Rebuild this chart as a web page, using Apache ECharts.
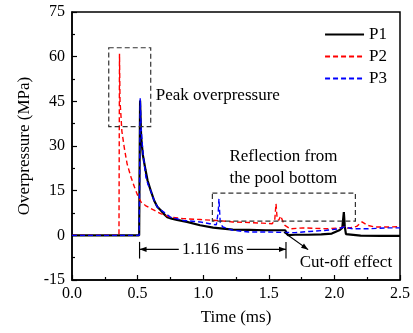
<!DOCTYPE html>
<html>
<head>
<meta charset="utf-8">
<script src="https://cdn.jsdelivr.net/npm/echarts@6/dist/echarts.min.js"></script>
<style>
  html, body { margin: 0; padding: 0; background: #fff; }
  #chart { width: 413px; height: 333px; }
</style>
</head>
<body>
<div id="chart"></div>
<script>
// Pressure histories at three gauges (time in ms, overpressure in MPa)
const p1Time = [0, 0.512, 0.515, 0.519, 0.527, 0.54, 0.56, 0.576, 0.6, 0.626, 0.65, 0.676, 0.7, 0.726, 0.76, 0.8, 0.876, 0.976, 1.076, 1.226, 1.35, 1.475, 1.56, 1.625, 1.645, 1.7, 1.8, 1.9, 1.98, 2.037, 2.06, 2.072, 2.079, 2.088, 2.1, 2.2, 2.35, 2.5];
const p1Value = [0, 0, 22, 45.3, 33, 27, 22, 18.4, 15, 11.7, 9.6, 8.4, 7.2, 6.1, 5.6, 5.2, 4.5, 3.4, 2.6, 1.9, 1.8, 1.7, 1.7, 1.7, 0.1, 0.2, 0.2, 0.3, 0.6, 1.7, 2.5, 7.8, 3, 0.4, 0.1, -0.1, -0.2, -0.2];

const p2Time = [0, 0.358, 0.362, 0.366, 0.372, 0.38, 0.4, 0.42, 0.45, 0.476, 0.5, 0.526, 0.56, 0.6, 0.676, 0.75, 0.85, 0.976, 1.1, 1.226, 1.35, 1.45, 1.525, 1.545, 1.555, 1.563, 1.575, 1.59, 1.62, 1.663, 1.76, 1.94, 2.04, 2.075, 2.1, 2.17, 2.21, 2.25, 2.31, 2.4, 2.5];
const p2Value = [0, 0, 61, 45, 41, 35, 29, 24, 19.5, 16.2, 13.5, 11.2, 10, 9, 7.3, 6.1, 5.6, 5.3, 5, 4.5, 4.3, 4.1, 3.9, 5, 10.6, 6, 5, 6.5, 3.4, 2.2, 2.5, 2.2, 2.5, 2.8, 2.4, 3, 4.5, 3.4, 2.8, 2.8, 2.9];

const p3Time = [0, 0.512, 0.52, 0.527, 0.54, 0.563, 0.58, 0.6, 0.626, 0.65, 0.7, 0.75, 0.85, 0.976, 1.05, 1.1, 1.115, 1.12, 1.13, 1.15, 1.226, 1.35, 1.5, 1.6, 1.7, 1.81, 1.94, 2.03, 2.075, 2.14, 2.26, 2.39, 2.5];
const p3Value = [0, 0, 46, 36, 28, 19.6, 17, 15, 11.7, 9.5, 7.8, 6.1, 5, 4.5, 3.9, 3.5, 8, 12.3, 4, 2.8, 1.7, 1.1, 1.1, 1.0, 0.9, 1.3, 1.7, 2.2, 2.8, 2.2, 2.2, 2.5, 2.5];

const seriesNames = ['P1', 'P2', 'P3'];

// Annotation anchors, in data coordinates
const peakBox = [[0.28, 63], [0.6, 36.5]];
const reflectBox = [[1.07, 14.2], [2.16, 4.8]];
const arrivalTime = 0.515;
const cutoffDelay = 1.116;
const dimLevel = -4.7;
const dimTickRange = [-2.2, -7.8];
const cutoffArrow = [[1.615, 1.0], [1.8, -4.8]];
const labelPeak = { text: 'Peak overpressure', at: [0.638, 47] };
const labelReflect = [
  { text: 'Reflection from', at: [1.2, 26.3] },
  { text: 'the pool bottom', at: [1.2, 19] }
];
const labelCutoff = { text: 'Cut-off effect', at: [2.088, -9] };

const zip = (t, v) => t.map((x, i) => [x, v[i]]);
const serif = '"Liberation Serif", "Times New Roman", serif';

const chart = echarts.init(document.getElementById('chart'), null, { renderer: 'canvas' });

chart.setOption({
  animation: false,
  backgroundColor: '#fff',
  grid: {
    left: 72, right: 8, top: 12, bottom: 53,
    show: true, borderColor: '#000', borderWidth: 1.5, backgroundColor: 'transparent'
  },
  legend: {
    data: seriesNames,
    orient: 'vertical',
    right: 21, top: 21,
    itemWidth: 39, itemHeight: 14, itemGap: 5,
    itemStyle: { opacity: 0 },
    textStyle: { fontFamily: serif, fontSize: 17, color: '#000', lineHeight: 17 }
  },
  xAxis: {
    type: 'value', min: 0, max: 2.5, interval: 0.5,
    name: 'Time (ms)', nameLocation: 'middle', nameGap: 29,
    nameTextStyle: { fontFamily: serif, fontSize: 17, color: '#000' },
    axisLine: { onZero: false, lineStyle: { color: '#000', width: 1.5 } },
    axisTick: { inside: true, length: 5, lineStyle: { color: '#000', width: 1.2 } },
    minorTick: { show: true, splitNumber: 2, length: 3, lineStyle: { color: '#000', width: 1.2 } },
    axisLabel: { fontFamily: serif, fontSize: 16, color: '#000', margin: 6, formatter: v => v.toFixed(1) },
    splitLine: { show: false }
  },
  yAxis: {
    type: 'value', min: -15, max: 75, interval: 15,
    name: 'Overpressure (MPa)', nameLocation: 'middle', nameGap: 37,
    nameTextStyle: { fontFamily: serif, fontSize: 17, color: '#000' },
    axisLine: { onZero: false, lineStyle: { color: '#000', width: 1.5 } },
    axisTick: { inside: true, length: 5, lineStyle: { color: '#000', width: 1.2 } },
    minorTick: { show: true, splitNumber: 2, length: 3, lineStyle: { color: '#000', width: 1.2 } },
    axisLabel: { fontFamily: serif, fontSize: 16, color: '#000', margin: 7 },
    splitLine: { show: false }
  },
  series: [
    {
      name: 'P1', type: 'line', symbol: 'none', data: zip(p1Time, p1Value),
      lineStyle: { color: '#000', width: 2.2, type: 'solid' }, itemStyle: { color: '#000' }
    },
    {
      name: 'P2', type: 'line', symbol: 'none', data: zip(p2Time, p2Value),
      lineStyle: { color: '#ff0000', width: 1.4, type: [5, 3] }, itemStyle: { color: '#ff0000' }
    },
    {
      name: 'P3', type: 'line', symbol: 'none', data: zip(p3Time, p3Value),
      lineStyle: { color: '#0000ff', width: 1.4, type: [5, 3] }, itemStyle: { color: '#0000ff' }
    }
  ]
});

// Annotations, placed through the chart's own coordinate system
const px = p => chart.convertToPixel({ gridIndex: 0 }, p);
const dashStyle = { fill: 'none', stroke: '#333', lineWidth: 1.2, lineDash: [5, 3] };
const inkStyle = { stroke: '#000', lineWidth: 1.2 };
const textStyle = (text, x, y, align) => ({
  type: 'text', z: 100,
  style: { text, x, y, fill: '#000', font: '17px ' + serif, textAlign: align || 'left', textVerticalAlign: 'middle' }
});
const boxOf = b => {
  const a = px(b[0]), c = px(b[1]);
  return { type: 'rect', z: 90, shape: { x: a[0], y: a[1], width: c[0] - a[0], height: c[1] - a[1] }, style: dashStyle };
};
const arrowHead = (tip, from, len, half) => {
  const dx = tip[0] - from[0], dy = tip[1] - from[1];
  const d = Math.hypot(dx, dy), ux = dx / d, uy = dy / d;
  const bx = tip[0] - ux * len, by = tip[1] - uy * len;
  return {
    type: 'polygon', z: 100,
    shape: { points: [tip, [bx - uy * half, by + ux * half], [bx + uy * half, by - ux * half]] },
    style: { fill: '#000' }
  };
};

const g = [];
g.push(boxOf(peakBox));
g.push(boxOf(reflectBox));

// Travel-time dimension between arrival and cut-off
const d0 = px([arrivalTime, dimLevel]);
const d1 = px([arrivalTime + cutoffDelay, dimLevel]);
const t0a = px([arrivalTime, dimTickRange[0]]), t0b = px([arrivalTime, dimTickRange[1]]);
const t1a = px([arrivalTime + cutoffDelay, dimTickRange[0]]), t1b = px([arrivalTime + cutoffDelay, dimTickRange[1]]);
g.push({ type: 'line', z: 100, shape: { x1: t0a[0], y1: t0a[1], x2: t0b[0], y2: t0b[1] }, style: inkStyle });
g.push({ type: 'line', z: 100, shape: { x1: t1a[0], y1: t1a[1], x2: t1b[0], y2: t1b[1] }, style: inkStyle });
const mid = px([arrivalTime + cutoffDelay / 2, dimLevel]);
g.push({ type: 'line', z: 100, shape: { x1: d0[0], y1: d0[1], x2: mid[0] - 34, y2: d0[1] }, style: inkStyle });
g.push({ type: 'line', z: 100, shape: { x1: mid[0] + 34, y1: d1[1], x2: d1[0], y2: d1[1] }, style: inkStyle });
g.push(arrowHead(d0, [d0[0] + 10, d0[1]], 7, 2.6));
g.push(arrowHead(d1, [d1[0] - 10, d1[1]], 7, 2.6));
g.push(textStyle(cutoffDelay.toFixed(3) + ' ms', mid[0], mid[1], 'center'));

// Pointer to the cut-off step
const ca = px(cutoffArrow[0]), cb = px(cutoffArrow[1]);
g.push({ type: 'line', z: 100, shape: { x1: ca[0], y1: ca[1], x2: cb[0], y2: cb[1] }, style: inkStyle });
g.push(arrowHead(cb, ca, 7, 2.6));

const lp = px(labelPeak.at);
g.push(textStyle(labelPeak.text, lp[0], lp[1]));
labelReflect.forEach(l => { const p = px(l.at); g.push(textStyle(l.text, p[0], p[1])); });
const lc = px(labelCutoff.at);
g.push(textStyle(labelCutoff.text, lc[0], lc[1], 'center'));

chart.setOption({ graphic: g });
</script>
</body>
</html>
